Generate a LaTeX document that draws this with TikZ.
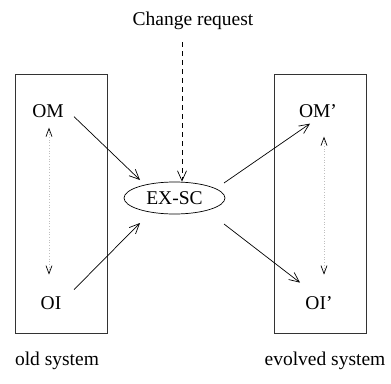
\documentclass[tikz,border=0pt]{standalone}
\usepackage{fontspec}
\setmainfont{Liberation Serif}
\usetikzlibrary{arrows.meta,calc,shapes.geometric}
\tikzset{
  lbl/.style={inner sep=0pt, anchor=base, font=\fontsize{19.5}{22}\selectfont},
  sysbox/.style={draw=black!80, line width=0.9pt, minimum width=92, minimum height=259, inner sep=0pt},
  arr/.style={line width=0.7pt, -{Straight Barb[length=10pt,width=9pt,line width=0.7pt]}},
  link/.style={dotted, draw=black!25, line width=0.7pt,
    {Straight Barb[length=8pt,width=6pt,line width=0.7pt,color=black]}-{Straight Barb[length=8pt,width=6pt,line width=0.7pt,color=black]}},
  req/.style={line width=0.7pt, dash pattern=on 5pt off 4pt, -{Straight Barb[length=10pt,width=9pt,line width=0.7pt]}},
}
\begin{document}
\begin{tikzpicture}[x=1pt, y=-1pt]
  \useasboundingbox (0,0) rectangle (391,383);

  % the two system boxes
  \node[sysbox] (oldbox) at (61,203.5) {};
  \node[sysbox] (newbox) at (320,203.5) {};

  % model and implementation labels
  \node[lbl] (om)  at (48,117) {OM};
  \node[lbl] (oi)  at (51,309) {OI};
  \node[lbl] (omp) at (318,117) {OM'};
  \node[lbl] (oip) at (319,309) {OI'};

  % evolution step
  \node[ellipse, draw, line width=0.7pt, minimum width=101, minimum height=32, inner sep=0pt,
        font=\fontsize{19.5}{22}\selectfont] (ex) at (174.5,198) {EX-SC};

  % change request
  \node[lbl] (cr) at (193,25) {Change request};
  \coordinate (crfoot) at (182,42);

  % system labels
  \node[lbl] (oldlbl) at (57,365.5) {old system};
  \node[lbl] (newlbl) at (325,365.5) {evolved system};

  % correspondence inside each system
  \draw[link] ($(om)+(1,17)$) -- ($(oi)+(-2,-28)$);
  \draw[link] ($(omp)+(6,26)$) -- ($(oip)+(5,-28)$);

  % flows through the evolution step
  \draw[arr] ($(om)+(26,6)$) -- ($(ex)+(-34.5,-18)$);
  \draw[arr] ($(oi)+(23,-13)$) -- ($(ex)+(-34.5,25)$);
  \draw[arr] ($(ex)+(49.5,-15)$) -- ($(omp)+(-8,13)$);
  \draw[arr] ($(ex)+(49.5,26)$) -- ($(oip)+(-19,-20)$);

  \draw[req] (crfoot) -- (crfoot |- ex.north);
\end{tikzpicture}
\end{document}
